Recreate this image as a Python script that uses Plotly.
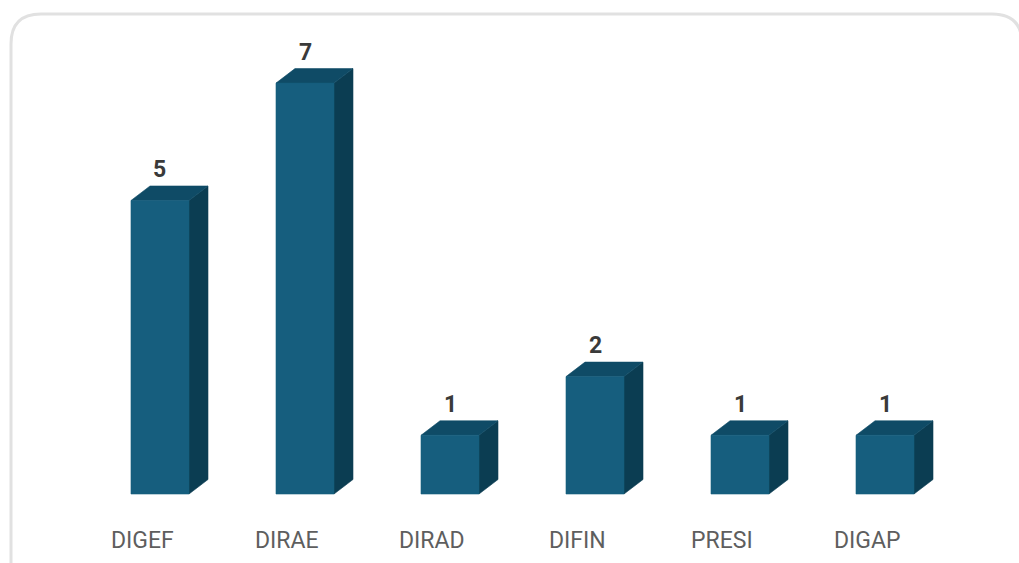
import plotly.graph_objects as go

categories = ["DIGEF", "DIRAE", "DIRAD", "DIFIN", "PRESI", "DIGAP"]
values = [5, 7, 1, 2, 1, 1]

FRONT = "#165e7e"
TOP = "#0f4b66"
SIDE = "#0b3d52"

W = 0.2      # half width of the front face (category units)
DX = 0.131   # depth offset in x (category units)
DY = 0.247   # depth offset in y (value units)

fig = go.Figure()

for i, v in enumerate(values):
    side_x = [i + W, i + W + DX, i + W + DX, i + W, i + W]
    side_y = [0, DY, v + DY, v, 0]
    top_x = [i - W, i + W, i + W + DX, i - W + DX, i - W]
    top_y = [v, v, v + DY, v + DY, v]
    front_x = [i - W, i + W, i + W, i - W, i - W]
    front_y = [0, 0, v, v, 0]
    for xs, ys, col in ((side_x, side_y, SIDE), (top_x, top_y, TOP), (front_x, front_y, FRONT)):
        fig.add_trace(go.Scatter(x=xs, y=ys, fill="toself", fillcolor=col, mode="lines",
                                 line=dict(color=col, width=0.6), hoverinfo="skip", showlegend=False))
    fig.add_annotation(x=i, y=v, xref="x", yref="y", text=f"<b>{v}</b>", showarrow=False,
                       yshift=31, font=dict(family="Roboto, Arial, sans-serif", size=23, color="#3a3a3a"))
    fig.add_annotation(x=i - 0.124, y=-0.79, xref="x", yref="y", text=categories[i], showarrow=False,
                       font=dict(family="Roboto, Arial, sans-serif", size=23, color="#5e5e5e"))

# card border (pixel -> paper helper)
def px(x):
    return x / 1019

def py(y):
    return 1 - y / 563

path = (f"M {px(11)},{py(600)} L {px(11)},{py(44)} Q {px(11)},{py(14)} {px(41)},{py(14)} "
        f"L {px(992)},{py(14)} Q {px(1022)},{py(14)} {px(1022)},{py(44)} L {px(1022)},{py(600)}")
fig.add_shape(type="path", path=path, xref="paper", yref="paper",
              line=dict(color="#e1e1e1", width=3), layer="below")

fig.update_layout(
    width=1019, height=563,
    margin=dict(l=0, r=0, t=0, b=0),
    paper_bgcolor="white", plot_bgcolor="white",
    xaxis=dict(range=[-1.1034, 5.9241], visible=False, fixedrange=True),
    yaxis=dict(range=[-1.1755, 8.4157], visible=False, fixedrange=True),
)

fig.write_html("out.html", config={"displayModeBar": False},
               post_script="document.body.style.margin='0';document.body.style.overflow='hidden';")
